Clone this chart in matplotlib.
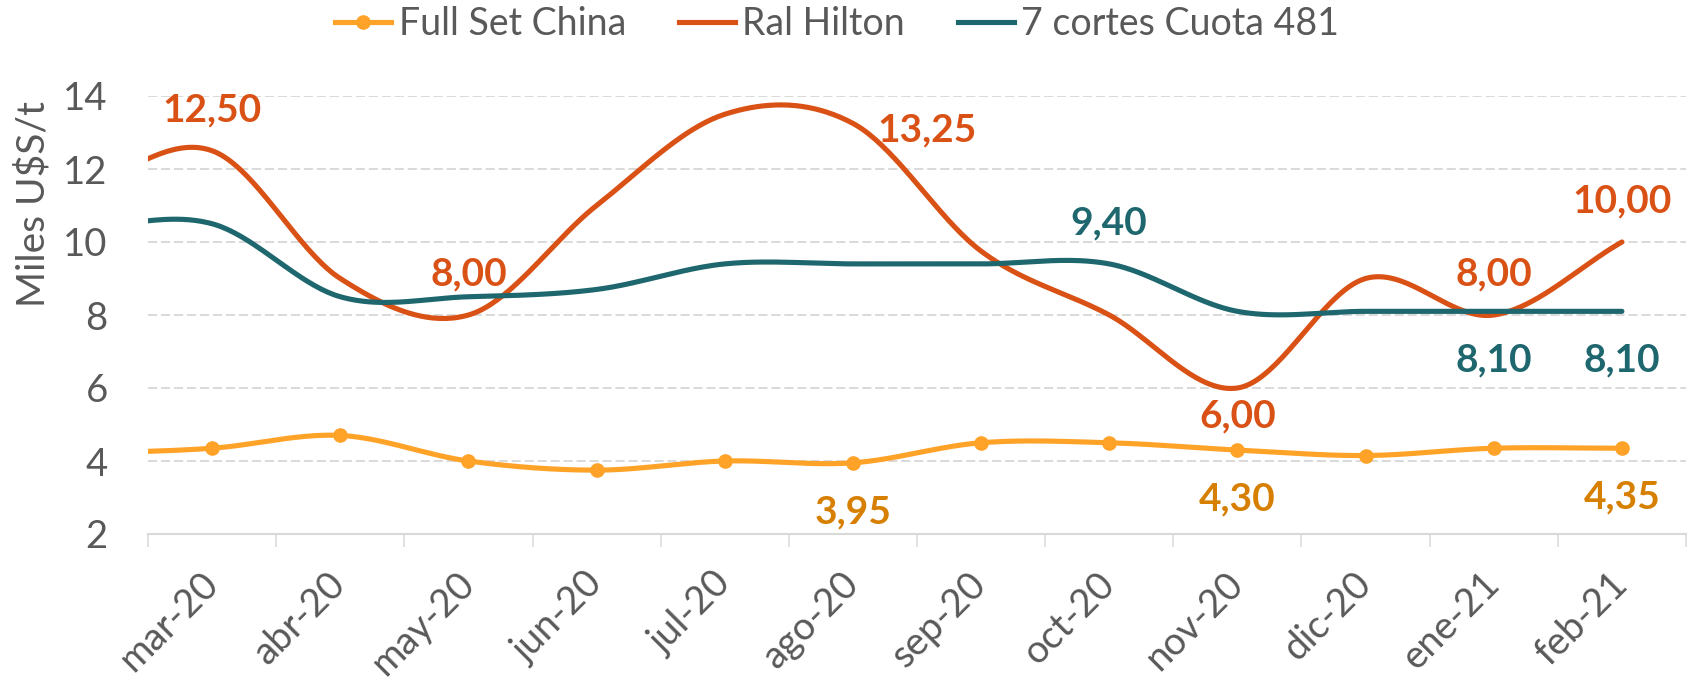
import numpy as np
import matplotlib
matplotlib.use("Agg")
import matplotlib.pyplot as plt
from matplotlib.lines import Line2D

plt.rcParams['font.family'] = ['Lato', 'DejaVu Sans']

# months (feb-20 sits just outside the left edge, like the clipped Excel line)
months = ["feb-20", "mar-20", "abr-20", "may-20", "jun-20", "jul-20", "ago-20",
          "sep-20", "oct-20", "nov-20", "dic-20", "ene-21", "feb-21"]
full_set_china = [4.20, 4.35, 4.70, 4.00, 3.75, 4.00, 3.95, 4.50, 4.50, 4.30, 4.15, 4.35, 4.35]
ral_hilton = [11.50, 12.50, 9.00, 8.00, 11.00, 13.50, 13.25, 9.75, 8.00, 6.00, 9.00, 8.00, 10.00]
cortes_481 = [10.40, 10.50, 8.50, 8.50, 8.70, 9.40, 9.40, 9.40, 9.40, 8.10, 8.10, 8.10, 8.10]

ORANGE = "#FFA228"
ORANGE_TXT = "#D67F00"
RED = "#D95115"
TEAL = "#1F676E"
GREY = "#595959"

x = np.arange(len(months)) - 1  # mar-20 -> 0


def smooth(xs, ys, n=40):
    # catmull-rom style smoothing, close to Excel's "smoothed line"
    ys = np.asarray(ys, float)
    m = np.gradient(ys)
    xo, yo = [], []
    for i in range(len(ys) - 1):
        t = np.linspace(0, 1, n, endpoint=False)
        h00 = 2 * t**3 - 3 * t**2 + 1
        h10 = t**3 - 2 * t**2 + t
        h01 = -2 * t**3 + 3 * t**2
        h11 = t**3 - t**2
        yo.append(h00 * ys[i] + h10 * m[i] + h01 * ys[i + 1] + h11 * m[i + 1])
        xo.append(xs[i] + t * (xs[i + 1] - xs[i]))
    xo.append([xs[-1]])
    yo.append([ys[-1]])
    return np.concatenate(xo), np.concatenate(yo)


fig = plt.figure(figsize=(16.88, 6.81), dpi=100)
ax = fig.add_axes([148 / 1688, 147 / 681, 1538 / 1688, 438 / 681])

lw = 3.7
sx, sy = smooth(x, full_set_china)
ax.plot(sx, sy, color=ORANGE, lw=lw, solid_capstyle='round', zorder=3)
ax.plot(x, full_set_china, 'o', color=ORANGE, ms=9.5, zorder=3)
sx, sy = smooth(x, ral_hilton)
ax.plot(sx, sy, color=RED, lw=lw, solid_capstyle='round', zorder=4)
sx, sy = smooth(x, cortes_481)
ax.plot(sx, sy, color=TEAL, lw=lw, solid_capstyle='round', zorder=5)

# data labels: (series, month, placement)
labels = [
    (full_set_china, "ago-20", "below", ORANGE_TXT),
    (full_set_china, "nov-20", "below", ORANGE_TXT),
    (full_set_china, "feb-21", "below", ORANGE_TXT),
    (ral_hilton, "mar-20", "above", RED),
    (ral_hilton, "may-20", "above", RED),
    (ral_hilton, "ago-20", "right", RED),
    (ral_hilton, "nov-20", "below_close", RED),
    (ral_hilton, "ene-21", "above", RED),
    (ral_hilton, "feb-21", "above", RED),
    (cortes_481, "oct-20", "above", TEAL),
    (cortes_481, "ene-21", "below", TEAL),
    (cortes_481, "feb-21", "below", TEAL),
]
offsets = {"above": (0, 21, "center"), "below": (0, -43.5, "center"),
           "below_close": (0, -28.3, "center"), "right": (17.7, -13.2, "left")}
for series, mon, where, col in labels:
    i = months.index(mon)
    dx, dy, ha = offsets[where]
    txt = f"{series[i]:.2f}".replace(".", ",")
    ax.annotate(txt, (x[i], series[i]), xytext=(dx, dy), textcoords='offset points',
                ha=ha, va='baseline', fontsize=28, fontweight='bold', color=col,
                zorder=6)

ax.set_yticks(range(2, 15, 2))
ax.set_xticks(x)
ax.set_xticklabels(months)
ax.set_xticks(np.arange(-0.5, 12, 1), minor=True)
ax.set_xlim(-0.5, 11.5)
ax.set_ylim(2, 14)
ax.tick_params(axis='x', which='major', length=0, pad=32, labelsize=27.5, labelcolor=GREY)
ax.tick_params(axis='x', which='minor', length=9.4, width=1.1, color='#D9D9D9')
for lab in ax.get_xticklabels():
    lab.set_rotation(45)
    lab.set_rotation_mode('anchor')
    lab.set_ha('right')
    lab.set_va('center')
ax.tick_params(axis='y', length=0, pad=29, labelsize=27.5, labelcolor=GREY)

ax.yaxis.grid(True, linestyle=(0, (6, 2.5)), color='#D0D0D0', lw=1.1)
ax.set_axisbelow(True)
for s in ['left', 'top', 'right']:
    ax.spines[s].set_visible(False)
ax.spines['bottom'].set_color('#D9D9D9')
ax.spines['bottom'].set_linewidth(1.5)

fig.text(33 / 1688, 1 - 204 / 681, r'Miles U\$S/t', rotation=90, ha='center', va='center',
         fontsize=28, color=GREY)

handles = [Line2D([], [], color=ORANGE, lw=lw, marker='o', ms=9.5),
           Line2D([], [], color=RED, lw=lw),
           Line2D([], [], color=TEAL, lw=lw)]
fig.legend(handles, ["Full Set China", "Ral Hilton", "7 cortes Cuota 481"],
           loc='center', bbox_to_anchor=(0.496, 0.965), ncol=3, frameon=False,
           fontsize=27, handlelength=1.5, handletextpad=0.2, columnspacing=1.4,
           labelcolor=GREY)

fig.savefig("out.png", dpi=100)
